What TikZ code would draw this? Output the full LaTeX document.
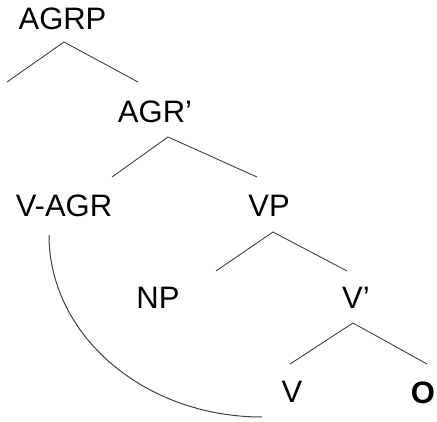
\documentclass[tikz,border=0pt]{standalone}
\usepackage{fontspec}
\setmainfont{Liberation Sans}
\usetikzlibrary{positioning}

\tikzset{
    cat/.style={anchor=base, inner sep=0pt, font=\fontsize{31}{36}\selectfont},
    branch/.style={line width=0.9pt, color=black!75},
}

\begin{document}
\begin{tikzpicture}[x=1pt, y=-1pt]
    % Marco de la figura
    \useasboundingbox (0,0) rectangle (437,421);

    % Etiquetas de las categorías
    \node[cat] (agrp) at (62.5, 29) {AGRP};
    \node[cat] (agrbar) at (155, 122) {AGR’};
    \node[cat] (vagr) at (64, 216) {V-AGR};
    \node[cat] (vp) at (269, 216) {VP};
    \node[cat] (np) at (158, 308) {NP};
    \node[cat] (vbar) at (356, 308) {V’};
    \node[cat] (v) at (292, 402) {V};
    \node[cat, font=\fontsize{31}{36}\selectfont\bfseries] (o) at (423, 403) {O};

    % Vértices y extremos de las ramas
    \coordinate (agrp-top) at (64, 42);
    \coordinate (agrp-l) at (7, 82);
    \coordinate (agrp-r) at (138, 82);
    \coordinate (agrbar-top) at (168, 137);
    \coordinate (agrbar-l) at (112, 177);
    \coordinate (agrbar-r) at (257, 177);
    \coordinate (vp-top) at (273, 232);
    \coordinate (vp-l) at (216, 271);
    \coordinate (vp-r) at (347, 271);
    \coordinate (vbar-top) at (353, 323);
    \coordinate (vbar-l) at (290, 364);
    \coordinate (vbar-r) at (427, 364);

    % Ramas
    \draw[branch] (agrp-l) -- (agrp-top) -- (agrp-r);
    \draw[branch] (agrbar-l) -- (agrbar-top) -- (agrbar-r);
    \draw[branch] (vp-l) -- (vp-top) -- (vp-r);
    \draw[branch] (vbar-l) -- (vbar-top) -- (vbar-r);

    % Movimiento de V a V-AGR
    \coordinate (move-start) at (49, 235);
    \draw[branch, line width=1pt] (move-start) arc[start angle=180, end angle=90, x radius=213, y radius=182];
\end{tikzpicture}
\end{document}
